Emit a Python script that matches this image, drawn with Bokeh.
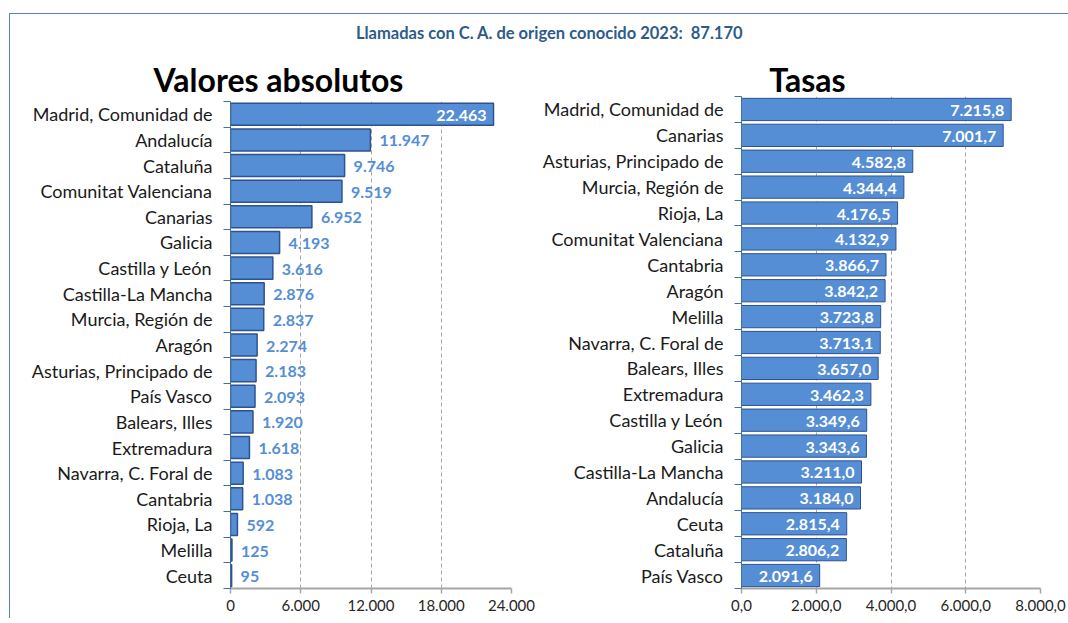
from bokeh.plotting import figure
from bokeh.layouts import column, row
from bokeh.models import Range1d, FixedTicker, ColumnDataSource
from bokeh.core.properties import value
from bokeh.embed import file_html
from bokeh.resources import INLINE

# ---------------- data ----------------
main_title = "Llamadas con C. A. de origen conocido 2023:\u00a0 87.170"
title_abs = "Valores absolutos"
title_tasa = "Tasas"

cats_abs = ["Madrid, Comunidad de", "Andalucía", "Cataluña", "Comunitat Valenciana",
            "Canarias", "Galicia", "Castilla y León", "Castilla-La Mancha",
            "Murcia, Región de", "Aragón", "Asturias, Principado de", "País Vasco",
            "Balears, Illes", "Extremadura", "Navarra, C. Foral de", "Cantabria",
            "Rioja, La", "Melilla", "Ceuta"]
vals_abs = [22463, 11947, 9746, 9519, 6952, 4193, 3616, 2876, 2837, 2274, 2183,
            2093, 1920, 1618, 1083, 1038, 592, 125, 95]

cats_tasa = ["Madrid, Comunidad de", "Canarias", "Asturias, Principado de",
             "Murcia, Región de", "Rioja, La", "Comunitat Valenciana", "Cantabria",
             "Aragón", "Melilla", "Navarra, C. Foral de", "Balears, Illes",
             "Extremadura", "Castilla y León", "Galicia", "Castilla-La Mancha",
             "Andalucía", "Ceuta", "Cataluña", "País Vasco"]
vals_tasa = [7215.8, 7001.7, 4582.8, 4344.4, 4176.5, 4132.9, 3866.7, 3842.2,
             3723.8, 3713.1, 3657.0, 3462.3, 3349.6, 3343.6, 3211.0, 3184.0,
             2815.4, 2806.2, 2091.6]

ticks_abs = [0, 6000, 12000, 18000, 24000]
ticks_abs_labels = ["0", "6.000", "12.000", "18.000", "24.000"]
ticks_tasa = [0, 2000, 4000, 6000, 8000]
ticks_tasa_labels = ["0,0", "2.000,0", "4.000,0", "6.000,0", "8.000,0"]

# ---------------- styles ----------------
FONT = "Lato"
BAR_FILL = "#558ED5"
BAR_EDGE = "#2F528F"
FRAME = "#5B86C5"
GRID = "#A6A6A6"


def es_int(v):
    return f"{v:,}".replace(",", ".")


def es_dec(v):
    return f"{v:,.1f}".replace(",", "X").replace(".", ",").replace("X", ".")


def panel(cats, vals, ticks, tick_labels, xmax, labels, frame_w, frame_h,
          b_left, b_right, inside_all, edge_w, shift_up):
    n = len(cats)
    pos = list(range(n))
    p = figure(output_backend="svg", toolbar_location=None, title=None,
               frame_width=frame_w, frame_height=frame_h,
               min_border_left=b_left, min_border_top=20,
               min_border_right=b_right, min_border_bottom=30,
               x_range=Range1d(0, xmax), y_range=Range1d(n - 0.5, -0.5),
               margin=(-shift_up, 0, 0, 0))
    p.outline_line_color = None
    p.background_fill_color = "white"
    p.border_fill_color = None

    src_inside = dict(x=[], y=[], t=[])
    src_out = dict(x=[], y=[], t=[])
    for i, (v, t) in enumerate(zip(vals, labels)):
        if inside_all or v / xmax > 0.8:
            src_inside["x"].append(v); src_inside["y"].append(i); src_inside["t"].append(t)
        else:
            src_out["x"].append(v); src_out["y"].append(i); src_out["t"].append(t)

    p.hbar(y=pos, right=vals, left=0, height=0.86, fill_color=BAR_FILL,
           line_color=BAR_EDGE, line_width=edge_w)
    p.text(x="x", y="y", text="t", source=ColumnDataSource(src_inside),
           text_align="right", text_baseline="middle", x_offset=-7, y_offset=1,
           text_color="white", text_font=value(FONT), text_font_style="bold",
           text_font_size="16px")
    p.text(x="x", y="y", text="t", source=ColumnDataSource(src_out),
           text_align="left", text_baseline="middle", x_offset=9, y_offset=1,
           text_color=BAR_FILL, text_font=value(FONT), text_font_style="bold",
           text_font_size="16px")

    # x axis
    p.xaxis.ticker = FixedTicker(ticks=ticks)
    p.xaxis.major_label_overrides = {t: l for t, l in zip(ticks, tick_labels)}
    p.xaxis.axis_line_color = GRID
    p.xaxis.axis_line_width = 2
    p.xaxis.major_tick_line_color = GRID
    p.xaxis.major_tick_line_width = 1.5
    p.xaxis.major_tick_out = 5
    p.xaxis.major_tick_in = 0
    p.xaxis.minor_tick_line_color = None
    p.xaxis.major_label_text_font = FONT
    p.xaxis.major_label_text_font_size = "15px"
    p.xaxis.major_label_text_color = "#262626"
    p.xaxis.major_label_standoff = 6

    # y axis: labels at centers, ticks at boundaries
    p.yaxis.ticker = FixedTicker(ticks=pos, minor_ticks=[i - 0.5 for i in range(n + 1)])
    p.yaxis.major_label_overrides = {i: c for i, c in enumerate(cats)}
    p.yaxis.major_tick_line_color = None
    p.yaxis.minor_tick_line_color = "#41719C"
    p.yaxis.minor_tick_out = 7
    p.yaxis.minor_tick_in = 0
    p.yaxis.axis_line_color = "#41719C"
    p.yaxis.major_label_text_font = FONT
    p.yaxis.major_label_text_font_size = "18px"
    p.yaxis.major_label_text_color = "#1a1a1a"
    p.yaxis.major_label_standoff = 11

    p.ygrid.grid_line_color = None
    p.xgrid.ticker = FixedTicker(ticks=ticks[1:])
    p.xgrid.grid_line_color = GRID
    p.xgrid.grid_line_dash = "4 3"
    p.xgrid.grid_line_width = 1
    return p


# page layout: content origin at (10, 14); header to y=104
left = panel(cats_abs, vals_abs, ticks_abs, ticks_abs_labels, 24000,
             [es_int(v) for v in vals_abs], 281, 487, 220, 28, False, 1.5, 23)
right = panel(cats_tasa, vals_tasa, ticks_tasa, ticks_tasa_labels, 8000,
              [es_dec(v) for v in vals_tasa], 299, 492, 202, 28, True, 1, 28)

# header with titles (coordinates in page pixels)
head = figure(output_backend="svg", toolbar_location=None, title=None,
              width=1058, height=90,
              x_range=Range1d(10, 1068), y_range=Range1d(104, 14),
              min_border=0, x_axis_type=None, y_axis_type=None)
head.outline_line_color = None
head.grid.grid_line_color = None
head.text(x=[549], y=[32], text=[main_title], text_align="center",
          text_baseline="middle", text_color="#2E5C8A", text_font=value(FONT),
          text_font_style="bold", text_font_size="16.5px")
head.text(x=[278, 807], y=[79, 79], text=[title_abs, title_tasa], text_align="center",
          text_baseline="middle", text_color="black", text_font=value(FONT),
          text_font_style="bold", text_font_size="32px")

layout = column(head, row(left, right), margin=(13, 0, 0, 9),
                styles={"border-top": f"1px solid {FRAME}",
                        "border-left": f"1px solid {FRAME}"})

open("out.html", "w").write(file_html(layout, INLINE))
